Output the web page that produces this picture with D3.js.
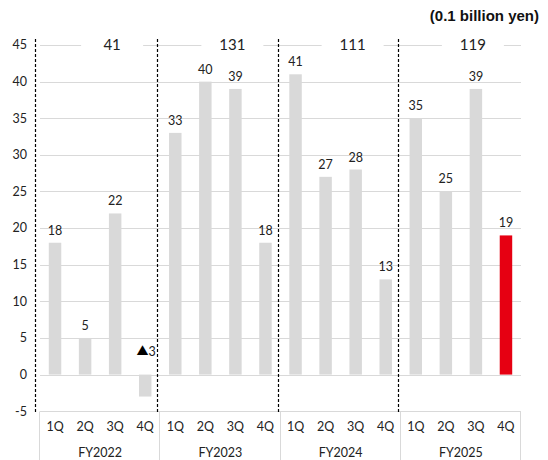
<!DOCTYPE html>
<html>
<head>
<meta charset="utf-8">
<script src="https://cdn.jsdelivr.net/npm/d3@7"></script>
<style>
  html, body { margin: 0; padding: 0; background: #fff; }
  svg { display: block; }
  .lbl { font-family: Lato, "Open Sans", sans-serif; fill: #222; }
</style>
</head>
<body>
<svg id="chart" width="548" height="460"></svg>
<script>
// Fiscal years and quarters
const years = ["FY2022", "FY2023", "FY2024", "FY2025"];
const quarters = ["1Q", "2Q", "3Q", "4Q"];
// Quarterly values (0.1 billion yen), one row per fiscal year
const fy2022 = [18, 5, 22, -3];
const fy2023 = [33, 40, 39, 18];
const fy2024 = [41, 27, 28, 13];
const fy2025 = [35, 25, 39, 19];
// Full-year totals shown at the top of each year
const yearTotals = [41, 131, 111, 119];
// Y axis ticks
const yTicks = [-5, 0, 5, 10, 15, 20, 25, 30, 35, 40, 45];
const unitLabel = "(0.1 billion yen)";

const series = [fy2022, fy2023, fy2024, fy2025];
const rows = [];
years.forEach((fy, yi) => quarters.forEach((q, qi) => {
  rows.push({ key: fy + "|" + q, fy, q, yi, qi, value: series[yi][qi],
              highlight: yi === years.length - 1 && qi === quarters.length - 1 });
}));

const svg = d3.select("#chart");
const plotLeft = 40, plotRight = 521, plotTop = 45, plotBottom = 411.2;

const x = d3.scaleBand().domain(rows.map(d => d.key)).range([plotLeft, plotRight])
  .paddingInner(0.585).paddingOuter(0.2925);
const y = d3.scaleLinear().domain([-5, 45]).range([plotBottom, plotTop]);
const groupX = d3.scaleBand().domain(years).range([plotLeft, plotRight]);

// Horizontal gridlines
svg.append("g").selectAll("line").data(yTicks).join("line")
  .attr("x1", plotLeft).attr("x2", plotRight)
  .attr("y1", d => Math.round(y(d)) + 0.5).attr("y2", d => Math.round(y(d)) + 0.5)
  .attr("stroke", "#d9d9d9").attr("stroke-width", 1);

// Y tick labels
svg.append("g").selectAll("text").data(yTicks).join("text")
  .attr("class", "lbl").attr("x", 27).attr("y", d => y(d))
  .attr("dy", "0.35em").attr("text-anchor", "end").attr("font-size", 12.5)
  .text(d => d);

// Category table below the plot
const tableTop = Math.round(y(-5)) + 0.5;
svg.append("g").selectAll("line").data([...years.map(fy => groupX(fy)), plotRight]).join("line")
  .attr("x1", d => Math.round(d) - 0.5).attr("x2", d => Math.round(d) - 0.5)
  .attr("y1", tableTop).attr("y2", 460)
  .attr("stroke", "#d9d9d9").attr("stroke-width", 1);

// Bars
svg.append("g").selectAll("rect").data(rows).join("rect")
  .attr("x", d => x(d.key)).attr("width", x.bandwidth())
  .attr("y", d => y(Math.max(0, d.value)))
  .attr("height", d => Math.abs(y(d.value) - y(0)))
  .attr("fill", d => d.highlight ? "#e60012" : "#d9d9d9");

// Value labels (negative values use the ▲ prefix)
const vl = svg.append("g").selectAll("text").data(rows).join("text")
  .attr("class", "lbl").attr("font-size", 12.5).attr("text-anchor", "middle")
  .attr("x", d => x(d.key) + x.bandwidth() / 2 + (d.value < 0 ? 1 : 0))
  .attr("y", d => d.value < 0 ? y(0) - 19 : y(d.value) - 8);
vl.filter(d => d.value >= 0).text(d => d.value);
vl.filter(d => d.value < 0).each(function (d) {
  const t = d3.select(this);
  t.append("tspan").attr("font-family", "'Noto Sans CJK JP', sans-serif")
    .attr("font-size", 12).attr("fill", "#000").text("\u25B2");
  t.append("tspan").text(Math.abs(d.value));
});

// Quarter labels
svg.append("g").selectAll("text").data(rows).join("text")
  .attr("class", "lbl").attr("font-size", 12.5).attr("text-anchor", "middle")
  .attr("x", d => x(d.key) + x.bandwidth() / 2).attr("y", 431)
  .text(d => d.q);

// Fiscal-year labels
svg.append("g").selectAll("text").data(years).join("text")
  .attr("class", "lbl").attr("font-size", 12.5).attr("text-anchor", "middle")
  .attr("x", d => groupX(d) + groupX.bandwidth() / 2).attr("y", 457)
  .text(d => d);

// Dashed year separators and left axis
const sepX = [plotLeft - 5, ...years.slice(1).map(fy => groupX(fy) - 3)];
svg.append("g").selectAll("line").data(sepX).join("line")
  .attr("x1", d => Math.round(d) + 0.5).attr("x2", d => Math.round(d) + 0.5)
  .attr("y1", 39).attr("y2", 412)
  .attr("stroke", "#000").attr("stroke-width", 1.2).attr("stroke-dasharray", "3,2");

// Yearly totals on white boxes at the top gridline
const tot = svg.append("g").selectAll("g").data(years).join("g")
  .attr("transform", d => `translate(${groupX(d) + groupX.bandwidth() / 2 + 12},${y(45)})`);
tot.append("rect").attr("x", -31).attr("y", -8).attr("width", 62).attr("height", 16).attr("fill", "#fff");
tot.append("text").attr("class", "lbl").attr("font-size", 15).attr("text-anchor", "middle")
  .attr("dy", "0.35em").text((d, i) => yearTotals[i]);

// Unit label
svg.append("text").attr("x", 539).attr("y", 21).attr("text-anchor", "end")
  .attr("font-family", "'Liberation Sans', Arial, sans-serif").attr("font-weight", "bold")
  .attr("font-size", 15).attr("fill", "#111").text(unitLabel);
</script>
</body>
</html>
